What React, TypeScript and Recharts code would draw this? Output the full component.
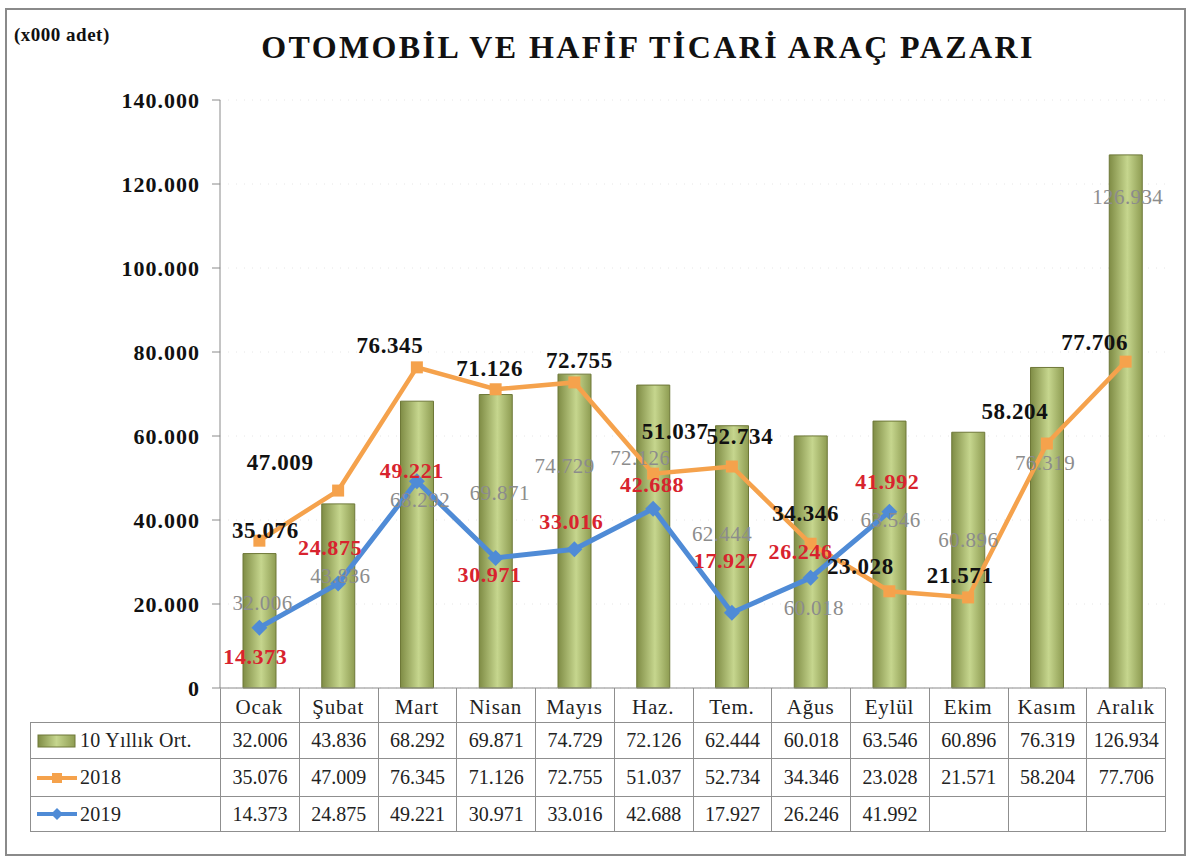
import { Bar, CartesianGrid, ComposedChart, LabelList, Line, XAxis, YAxis } from "recharts";

const months = ["Ocak", "Şubat", "Mart", "Nisan", "Mayıs", "Haz.", "Tem.", "Ağus", "Eylül", "Ekim", "Kasım", "Aralık"];
const avg10 = [32006, 43836, 68292, 69871, 74729, 72126, 62444, 60018, 63546, 60896, 76319, 126934];
const y2018 = [35076, 47009, 76345, 71126, 72755, 51037, 52734, 34346, 23028, 21571, 58204, 77706];
const y2019 = [14373, 24875, 49221, 30971, 33016, 42688, 17927, 26246, 41992, null, null, null];
const yTicks = [0, 20000, 40000, 60000, 80000, 100000, 120000, 140000];

const data = months.map((m, i) => ({ month: m, avg: avg10[i], y18: y2018[i], y19: y2019[i] }));

// label placement (pixels, relative to the mark)
const off18 = [[6, -10], [-58, -28], [-27, -22], [-6, -21], [5, -22], [22, -42], [8, -30], [-5, -30], [-29, -25], [-8, -22], [-32, -32], [-31, -19]];
const off19 = [[-4, 29], [-8, -36], [-5, -11], [-6, 17], [-3, -28], [-1, -24], [-6, -52], [-10, -26], [-2, -30]];
const offBar = [[3, 49], [2, 72], [3, 99], [4, 98], [-10, 92], [-13, 73], [-10, 108], [3, 172], [1, 99], [0, 108], [-2, 96], [2, 42]];

const SERIF = "'Liberation Serif', 'DejaVu Serif', serif";
const ORANGE = "#f5a24c";
const BLUE = "#4f8bd6";

const fmt = (v: number) => String(v).replace(/\B(?=(\d{3})+(?!\d))/g, ".");

const PLOT_L = 220;
const PLOT_R = 1165;
const COL_W = (PLOT_R - PLOT_L) / 12;

function SquareDot(props: any) {
  const { cx, cy, index } = props;
  if (cx == null || cy == null) return <g key={"s" + index} />;
  return <rect key={"s" + index} x={cx - 6} y={cy - 6} width={12} height={12} fill={ORANGE} />;
}

function DiamondDot(props: any) {
  const { cx, cy, index } = props;
  if (cx == null || cy == null) return <g key={"d" + index} />;
  return <polygon key={"d" + index} points={`${cx},${cy - 8} ${cx + 8},${cy} ${cx},${cy + 8} ${cx - 8},${cy}`} fill={BLUE} />;
}

function label18(props: any) {
  const { x, y, index, value } = props;
  const o = off18[index];
  return (
    <text key={"l18" + index} x={x + o[0]} y={y + o[1]} textAnchor="middle" dominantBaseline="central"
      fontFamily={SERIF} fontSize={23} fontWeight="bold" letterSpacing={0.6} fill="#111">{fmt(value)}</text>
  );
}

function label19(props: any) {
  const { x, y, index, value } = props;
  if (value == null) return null;
  const o = off19[index];
  return (
    <text key={"l19" + index} x={x + o[0]} y={y + o[1]} textAnchor="middle" dominantBaseline="central"
      fontFamily={SERIF} fontSize={22} fontWeight="bold" letterSpacing={0.6} fill="#d8232e">{fmt(value)}</text>
  );
}

function labelBar(props: any) {
  const { x, y, width, index, value } = props;
  const o = offBar[index];
  return (
    <text key={"lb" + index} x={x + width / 2 + o[0]} y={y + o[1]} textAnchor="middle" dominantBaseline="central"
      fontFamily={SERIF} fontSize={21} letterSpacing={0.4} fill="#8c8c8c">{fmt(value)}</text>
  );
}

function MonthTick(props: any) {
  const { x, y, payload } = props;
  return (
    <text x={x} y={y + 17} textAnchor="middle" dominantBaseline="central" fontFamily={SERIF} fontSize={21} letterSpacing={0.8} fill="#222">
      {payload.value}
    </text>
  );
}

function ValueTick(props: any) {
  const { x, y, payload } = props;
  return (
    <text x={x} y={y} textAnchor="end" dominantBaseline="central" fontFamily={SERIF} fontSize={22} fontWeight="bold" letterSpacing={1} fill="#111">
      {fmt(payload.value)}
    </text>
  );
}

const cell: React.CSSProperties = {
  position: "absolute",
  boxSizing: "border-box",
  border: "1px solid #8f8f8f",
  fontFamily: SERIF,
  fontSize: 20,
  color: "#222",
  display: "flex",
  alignItems: "center",
  justifyContent: "center",
};

const rows = [
  { name: "10 Yıllık Ort.", values: avg10, icon: "bar" },
  { name: "2018", values: y2018, icon: "sq" },
  { name: "2019", values: y2019, icon: "dia" },
];
const rowTop = [722, 758, 796];
const rowH = [36, 38, 35];

function Icon({ kind }: { kind: string }) {
  if (kind === "bar") {
    return (
      <svg width={40} height={16} style={{ marginRight: 3 }}>
        <defs>
          <linearGradient id="legG" x1="0" x2="1" y1="0" y2="0">
            <stop offset="0%" stopColor="#7f8c45" />
            <stop offset="50%" stopColor="#c6d68e" />
            <stop offset="100%" stopColor="#8e9c52" />
          </linearGradient>
        </defs>
        <rect x={1} y={2} width={37} height={12} fill="url(#legG)" stroke="#6e7838" />
      </svg>
    );
  }
  const col = kind === "sq" ? ORANGE : BLUE;
  return (
    <svg width={40} height={16} style={{ marginRight: 3 }}>
      <line x1={0} y1={8} x2={40} y2={8} stroke={col} strokeWidth={4} />
      {kind === "sq" ? (
        <rect x={15} y={3} width={10} height={10} fill={col} />
      ) : (
        <polygon points="20,2 26,8 20,14 14,8" fill={col} />
      )}
    </svg>
  );
}

export default function App() {
  return (
    <div style={{ position: "absolute", left: 0, top: 0, width: 1200, height: 868, background: "#fff" }}>
      <div style={{ position: "absolute", left: 5, top: 8, width: 1181, height: 848, border: "2px solid #8a8a8a", boxSizing: "border-box" }} />
      <div style={{ position: "absolute", left: 14, top: 24, fontFamily: SERIF, fontWeight: "bold", fontSize: 19, letterSpacing: 0.5, color: "#111" }}>
        (x000 adet)
      </div>
      <div style={{ position: "absolute", left: 0, width: 1296, top: 29, textAlign: "center", fontFamily: SERIF, fontWeight: "bold", fontSize: 32, letterSpacing: 2.4, color: "#111" }}>
        OTOMOBİL VE HAFİF TİCARİ ARAÇ PAZARI
      </div>

      {/* table grid */}
      {months.map((m, i) => (
        <div key={"h" + i} style={{ ...cell, left: PLOT_L + i * COL_W, top: 688, width: COL_W + 1, height: 35, borderTop: "none" }} />
      ))}
      {rows.map((r, ri) => (
        <div key={"r" + ri}>
          <div style={{ ...cell, left: 30, top: rowTop[ri], width: PLOT_L - 30 + 1, height: rowH[ri] + 1, justifyContent: "flex-start", paddingLeft: 6, letterSpacing: 0.3 }}>
            <Icon kind={r.icon} />
            {r.name}
          </div>
          {r.values.map((v, ci) => (
            <div key={"c" + ci} style={{ ...cell, left: PLOT_L + ci * COL_W, top: rowTop[ri], width: COL_W + 1, height: rowH[ri] + 1 }}>
              {v == null ? "" : fmt(v)}
            </div>
          ))}
        </div>
      ))}

      <div style={{ position: "absolute", left: 0, top: 0 }}>
        <ComposedChart width={1200} height={722} data={data} margin={{ top: 100, right: 1200 - PLOT_R, bottom: 0, left: 0 }}>
          <defs>
            <linearGradient id="barG" x1="0" x2="1" y1="0" y2="0">
              <stop offset="0%" stopColor="#7f8c45" />
              <stop offset="55%" stopColor="#c6d68e" />
              <stop offset="100%" stopColor="#8e9c52" />
            </linearGradient>
          </defs>
          <CartesianGrid stroke="#e6e6e6" strokeDasharray="1 7" vertical={false} />
          <XAxis dataKey="month" height={34} tickSize={0} tickLine={false} axisLine={{ stroke: "#8a8a8a" }} tick={<MonthTick />} interval={0} />
          <YAxis width={PLOT_L} domain={[0, 140000]} ticks={yTicks} tickSize={8} tickMargin={12}
            axisLine={{ stroke: "#8a8a8a" }} tickLine={{ stroke: "#8a8a8a" }} tick={<ValueTick />} interval={0} />
          <Bar dataKey="avg" barSize={33} fill="url(#barG)" stroke="#6e7838" strokeWidth={1} isAnimationActive={false}>
            <LabelList dataKey="avg" content={labelBar} />
          </Bar>
          <Line dataKey="y18" stroke={ORANGE} strokeWidth={4.5} dot={SquareDot} activeDot={false} isAnimationActive={false}>
            <LabelList dataKey="y18" content={label18} />
          </Line>
          <Line dataKey="y19" stroke={BLUE} strokeWidth={5} dot={DiamondDot} activeDot={false} isAnimationActive={false} connectNulls={false}>
            <LabelList dataKey="y19" content={label19} />
          </Line>
        </ComposedChart>
      </div>
    </div>
  );
}
